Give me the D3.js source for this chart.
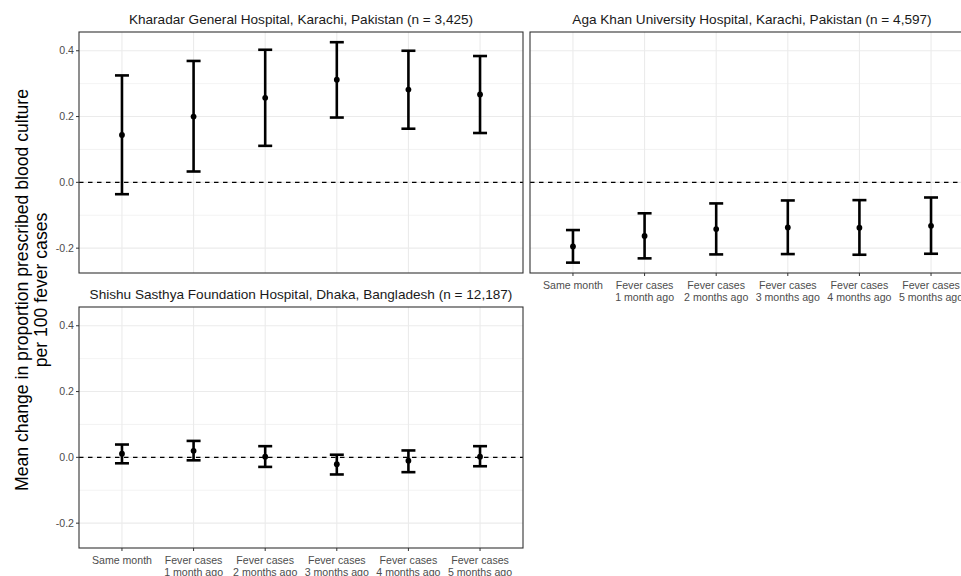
<!DOCTYPE html>
<html><head><meta charset="utf-8">
<script src="https://cdn.jsdelivr.net/npm/d3@7"></script>
<style>body{margin:0;background:#fff;} text{font-family:"Liberation Sans",Arial,sans-serif;}</style>
</head><body>
<svg id="c" width="961" height="576"></svg>
<script>
const categories = ["Same month","Fever cases\n1 month ago","Fever cases\n2 months ago","Fever cases\n3 months ago","Fever cases\n4 months ago","Fever cases\n5 months ago"];
const panels = ["Kharadar General Hospital, Karachi, Pakistan (n = 3,425)","Aga Khan University Hospital, Karachi, Pakistan (n = 4,597)","Shishu Sasthya Foundation Hospital, Dhaka, Bangladesh (n = 12,187)"];
const estKharadar = [0.144,0.200,0.257,0.312,0.282,0.267];
const lowKharadar = [-0.036,0.033,0.111,0.197,0.163,0.150];
const highKharadar = [0.325,0.369,0.403,0.426,0.400,0.384];
const estAgaKhan = [-0.195,-0.163,-0.142,-0.137,-0.138,-0.132];
const lowAgaKhan = [-0.244,-0.231,-0.219,-0.218,-0.220,-0.217];
const highAgaKhan = [-0.145,-0.094,-0.064,-0.055,-0.054,-0.046];
const estShishu = [0.011,0.020,0.002,-0.021,-0.010,0.002];
const lowShishu = [-0.018,-0.009,-0.029,-0.052,-0.045,-0.027];
const highShishu = [0.039,0.050,0.034,0.008,0.021,0.034];
const yTicks = [-0.2,0.0,0.2,0.4];
const yMinor = [-0.1,0.1,0.3];
const yTitle = ["Mean change in proportion prescribed blood culture","per 100 fever cases"];

const series = [
  {est:estKharadar, low:lowKharadar, high:highKharadar},
  {est:estAgaKhan, low:lowAgaKhan, high:highAgaKhan},
  {est:estShishu, low:lowShishu, high:highShishu}
];
const layout = [
  {x0:79, y0:32, yAxis:true, xAxis:false},
  {x0:530, y0:32, yAxis:false, xAxis:true},
  {x0:79, y0:307, yAxis:true, xAxis:true}
];
const pw = 444, ph = 241;
const svg = d3.select("#c");
const x = d3.scalePoint().domain(categories).range([0,pw]).padding(0.6);
const y = d3.scaleLinear().domain([-0.2755,0.457]).range([ph,0]);

layout.forEach((L,i)=>{
  const g = svg.append("g").attr("transform",`translate(${L.x0},${L.y0})`);
  const s = series[i];
  g.append("rect").attr("width",pw).attr("height",ph).attr("fill","#fff");
  g.selectAll(".ymin").data(yMinor).join("line").attr("x1",0).attr("x2",pw)
    .attr("y1",d=>y(d)).attr("y2",d=>y(d)).attr("stroke","#ebebeb").attr("stroke-width",0.6);
  g.selectAll(".ymaj").data(yTicks).join("line").attr("x1",0).attr("x2",pw)
    .attr("y1",d=>y(d)).attr("y2",d=>y(d)).attr("stroke","#ebebeb").attr("stroke-width",1.1);
  g.selectAll(".xmaj").data(categories).join("line").attr("y1",0).attr("y2",ph)
    .attr("x1",d=>x(d)).attr("x2",d=>x(d)).attr("stroke","#ebebeb").attr("stroke-width",1.1);
  g.append("line").attr("x1",0).attr("x2",pw).attr("y1",y(0)).attr("y2",y(0))
    .attr("stroke","#000").attr("stroke-width",1.1).attr("stroke-dasharray","4.5,4.5");
  const cap = 7;
  categories.forEach((c,j)=>{
    const cx = x(c);
    g.append("line").attr("x1",cx).attr("x2",cx).attr("y1",y(s.low[j])).attr("y2",y(s.high[j])).attr("stroke","#000").attr("stroke-width",2.6);
    [s.low[j],s.high[j]].forEach(v=>g.append("line").attr("x1",cx-cap).attr("x2",cx+cap).attr("y1",y(v)).attr("y2",y(v)).attr("stroke","#000").attr("stroke-width",2.6));
    g.append("circle").attr("cx",cx).attr("cy",y(s.est[j])).attr("r",2.9).attr("fill","#000");
  });
  g.append("rect").attr("width",pw).attr("height",ph).attr("fill","none").attr("stroke","#333").attr("stroke-width",1.1);
  g.append("text").attr("x",pw/2).attr("y",-8).attr("text-anchor","middle").attr("font-size",13.6).attr("fill","#1a1a1a").text(panels[i]);
  if(L.yAxis){
    yTicks.forEach(t=>{
      g.append("line").attr("x1",-3).attr("x2",0).attr("y1",y(t)).attr("y2",y(t)).attr("stroke","#333").attr("stroke-width",1);
      g.append("text").attr("x",-5).attr("y",y(t)).attr("dy","0.35em").attr("text-anchor","end").attr("font-size",10.6).attr("fill","#4d4d4d").text(d3.format(".1f")(t).replace("−","-"));
    });
  }
  if(L.xAxis){
    categories.forEach(c=>{
      g.append("line").attr("x1",x(c)).attr("x2",x(c)).attr("y1",ph).attr("y2",ph+3).attr("stroke","#333").attr("stroke-width",1);
      const t = g.append("text").attr("text-anchor","middle").attr("font-size",10.6).attr("fill","#4d4d4d");
      c.split("\n").forEach((ln,k)=>t.append("tspan").attr("x",x(c)).attr("y",ph+16+k*12).text(ln));
    });
  }
});

const yt = svg.append("text").attr("transform","translate(0,290) rotate(-90)").attr("text-anchor","middle").attr("font-size",17.6).attr("fill","#000");
yTitle.forEach((ln,k)=>yt.append("tspan").attr("x",0).attr("y",28+k*19).text(ln));
</script>
</body></html>
